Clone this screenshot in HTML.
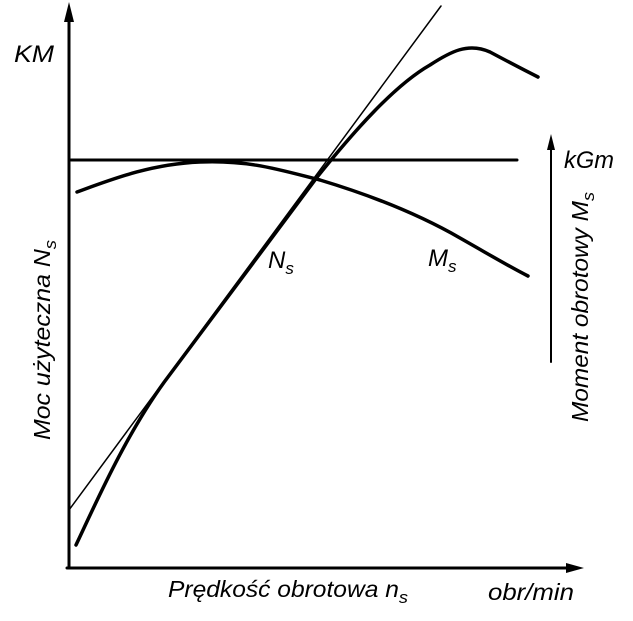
<!DOCTYPE html>
<html><head><meta charset="utf-8"><style>
html,body{margin:0;padding:0;background:#fff;width:633px;height:621px;overflow:hidden}
text{font-family:"Liberation Sans",sans-serif;font-style:italic;fill:#000}
</style></head><body>
<svg width="633" height="621" viewBox="0 0 633 621" xmlns="http://www.w3.org/2000/svg">
<g stroke="#000" fill="none" stroke-linecap="round">
<line x1="69" y1="568" x2="69" y2="12" stroke-width="3"/>
<line x1="67" y1="568" x2="570" y2="568" stroke-width="3"/>
<line x1="71" y1="160" x2="517" y2="160" stroke-width="3"/>
<line x1="69" y1="510" x2="441" y2="6" stroke-width="1.5"/>
<path d="M76,545 C95,505 125,436 165,381 L318,176 C355,130 395,85 430,65 C450,52 468,42 490,52 C505,60 520,68 538,77" stroke-width="3.5"/>
<path d="M77,192 C110,180 150,164 200,162 C250,160 280,170 320,180 C370,195 420,215 460,238 C490,255 510,267 528,276" stroke-width="3.5"/>
<line x1="551" y1="362" x2="551" y2="145" stroke-width="2"/>
</g>
<polygon points="69,2 64,22 74,22" fill="#000"/>
<polygon points="584,568 566,563 566,573" fill="#000"/>
<polygon points="551,134 547,150 555,150" fill="#000"/>
<text x="14" y="62" font-size="24" textLength="40" lengthAdjust="spacingAndGlyphs">KM</text>
<text x="564" y="168" font-size="24" textLength="50" lengthAdjust="spacingAndGlyphs">kGm</text>
<text x="268" y="268" font-size="24">N<tspan font-size="17" dy="6">s</tspan></text>
<text x="428" y="266" font-size="24">M<tspan font-size="17" dy="6">s</tspan></text>
<text x="168" y="597" font-size="23" textLength="240" lengthAdjust="spacingAndGlyphs">Prędkość obrotowa n<tspan font-size="17" dy="6">s</tspan></text>
<text x="488" y="600" font-size="23" textLength="86" lengthAdjust="spacingAndGlyphs">obr/min</text>
<text transform="translate(50,440) rotate(-90)" font-size="23" textLength="200" lengthAdjust="spacingAndGlyphs">Moc użyteczna N<tspan font-size="17" dy="6">s</tspan></text>
<text transform="translate(588,422) rotate(-90)" font-size="23" textLength="230" lengthAdjust="spacingAndGlyphs">Moment obrotowy M<tspan font-size="17" dy="6">s</tspan></text>
</svg>
</body></html>
